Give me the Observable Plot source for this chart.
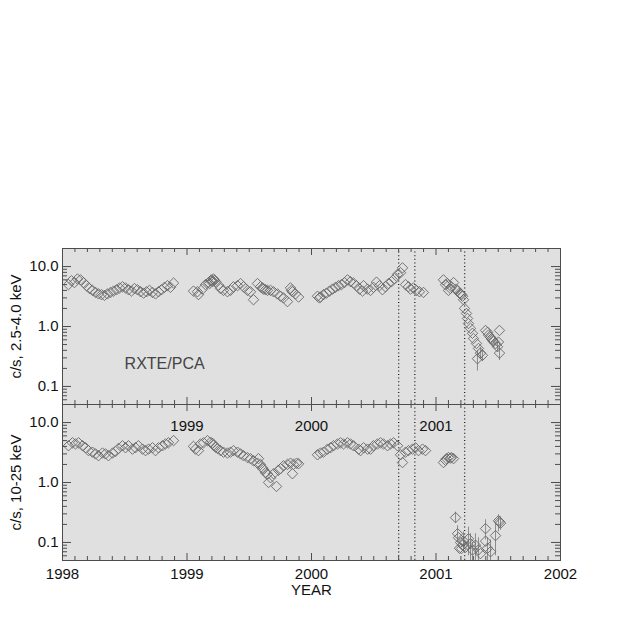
<!DOCTYPE html>
<html><head><meta charset="utf-8">
<script src="https://cdn.jsdelivr.net/npm/d3@7"></script>
<script src="https://cdn.jsdelivr.net/npm/@observablehq/plot@0.6"></script>
<style>
body{margin:0;background:#fff;font-family:"Liberation Sans",Arial,sans-serif;}
#chart{position:relative;width:623px;height:623px;}
#chart svg{display:block;}
</style></head><body><div id="chart"></div>
<script>
// ---- data: RXTE/PCA count rates ----
const softYear = [1998.048,1998.072,1998.096,1998.120,1998.145,1998.169,1998.193,1998.217,1998.241,1998.265,1998.289,1998.313,1998.337,1998.361,1998.386,1998.410,1998.434,1998.458,1998.482,1998.506,1998.530,1998.554,1998.578,1998.602,1998.627,1998.651,1998.675,1998.699,1998.723,1998.747,1998.771,1998.795,1998.819,1998.843,1998.867,1998.892,
1999.052,1999.084,1999.092,1999.124,1999.149,1999.173,1999.181,1999.189,1999.197,1999.205,1999.213,1999.221,1999.229,1999.253,1999.269,1999.293,1999.325,1999.349,1999.373,1999.406,1999.430,1999.454,1999.486,1999.510,1999.534,1999.566,1999.590,1999.606,1999.614,1999.631,1999.647,1999.671,1999.695,1999.727,1999.751,1999.775,1999.807,1999.831,1999.839,1999.847,1999.871,1999.896,
2000.048,2000.064,2000.072,2000.096,2000.120,2000.145,2000.169,2000.193,2000.217,2000.241,2000.265,2000.289,2000.313,2000.337,2000.361,2000.386,2000.410,2000.418,2000.450,2000.474,2000.498,2000.522,2000.546,2000.570,2000.594,2000.618,2000.643,2000.667,2000.691,2000.715,2000.731,2000.755,2000.779,2000.795,2000.819,2000.843,2000.867,2000.899,
2001.060,2001.076,2001.092,2001.100,2001.116,2001.124,2001.141,2001.157,2001.173,2001.189,2001.197,2001.205,2001.213,2001.221,2001.229,2001.245,2001.253,2001.261,2001.277,2001.293,2001.301,2001.325,2001.333,2001.341,2001.357,2001.373,2001.398,2001.414,2001.422,2001.438,2001.446,2001.454,2001.462,2001.478,2001.494,2001.502,2001.510,2001.510];
const softRate = [5.0,5.8,5.4,6.2,6.0,5.4,4.8,4.3,4.0,3.7,3.5,3.4,3.3,3.5,3.7,3.9,4.1,4.4,4.6,4.4,4.1,3.9,4.3,4.1,3.8,3.6,3.8,4.0,3.7,3.5,3.8,4.1,4.5,4.8,4.5,5.3,
3.9,3.8,3.4,4.2,5.0,5.4,5.2,5.8,6.0,5.6,6.2,5.9,5.6,4.9,4.3,4.0,3.8,4.0,4.6,4.8,5.2,4.6,4.0,3.8,2.8,5.2,4.6,4.4,4.2,4.1,4.0,4.0,3.8,3.5,3.2,3.0,2.6,4.4,4.0,3.8,3.5,3.1,
3.2,3.0,3.1,3.4,3.6,3.9,4.2,4.5,4.8,5.0,5.4,6.0,5.6,5.3,4.8,4.2,3.9,4.8,4.2,4.0,4.5,5.5,4.8,4.1,4.6,5.2,5.6,6.3,7.4,7.9,9.5,5.0,4.6,4.2,4.4,4.0,3.8,3.7,
6.0,5.0,5.2,4.0,4.3,4.6,5.4,4.2,4.0,3.6,3.5,3.4,3.2,2.8,2.0,1.65,1.36,1.12,0.93,0.77,0.63,0.52,0.29,0.43,0.36,0.33,0.86,0.80,0.72,0.66,0.62,0.60,0.56,0.52,0.46,0.55,0.86,0.36];
const softErrYear = [2001.333,2001.357,2001.373,2001.494,2001.510];
const softErrLo   = [0.18,0.28,0.26,0.38,0.27];
const softErrHi   = [0.40,0.45,0.41,0.55,0.47];

const hardYear = [1998.048,1998.080,1998.104,1998.129,1998.161,1998.185,1998.209,1998.241,1998.265,1998.289,1998.321,1998.345,1998.369,1998.402,1998.426,1998.450,1998.482,1998.506,1998.530,1998.562,1998.586,1998.610,1998.643,1998.667,1998.691,1998.723,1998.747,1998.771,1998.803,1998.827,1998.851,1998.892,
1999.052,1999.068,1999.092,1999.108,1999.133,1999.165,1999.189,1999.205,1999.213,1999.229,1999.245,1999.269,1999.293,1999.325,1999.349,1999.373,1999.406,1999.430,1999.454,1999.486,1999.510,1999.534,1999.566,1999.574,1999.590,1999.606,1999.614,1999.631,1999.647,1999.655,1999.671,1999.695,1999.719,1999.735,1999.751,1999.775,1999.807,1999.831,1999.847,1999.855,1999.880,1999.896,
2000.048,2000.072,2000.096,2000.129,2000.153,2000.177,2000.209,2000.233,2000.257,2000.289,2000.313,2000.337,2000.378,2000.394,2000.418,2000.450,2000.474,2000.498,2000.530,2000.554,2000.578,2000.610,2000.635,2000.659,2000.691,2000.715,2000.731,2000.755,2000.779,2000.811,2000.835,2000.859,2000.892,2000.916,
2001.060,2001.076,2001.084,2001.100,2001.116,2001.124,2001.141,2001.157,2001.173,2001.181,2001.189,2001.197,2001.205,2001.213,2001.221,2001.237,2001.261,2001.277,2001.293,2001.317,2001.341,2001.357,2001.398,2001.398,2001.414,2001.438,2001.478,2001.502,2001.510,2001.518];
const hardRate = [4.1,4.6,4.4,4.6,4.1,3.8,3.4,3.2,3.0,2.8,3.1,3.0,2.8,3.1,3.3,3.7,4.1,3.8,4.1,3.6,3.8,4.1,3.6,3.4,3.6,3.8,3.4,3.8,4.1,4.4,4.6,5.0,
4.0,3.6,3.4,4.4,4.6,5.0,4.7,4.5,4.2,3.9,3.7,3.4,3.2,3.1,3.2,3.4,3.2,3.0,2.8,2.6,2.5,2.3,2.1,2.5,2.0,1.75,1.65,1.45,1.38,1.0,1.2,1.4,0.86,1.6,1.7,1.9,2.0,2.1,1.4,2.0,2.1,2.05,
2.9,3.1,3.2,3.6,3.8,4.1,4.4,4.6,4.4,4.6,4.4,4.1,3.6,3.4,3.8,3.6,3.6,4.1,4.4,4.6,4.4,4.1,4.4,4.6,4.1,2.9,2.15,3.2,3.4,3.6,3.8,3.4,3.6,3.4,
2.15,2.35,2.5,2.6,2.55,2.6,2.5,0.26,0.14,0.12,0.08,0.10,0.079,0.09,0.105,0.083,0.115,0.095,0.075,0.09,0.075,0.065,0.17,0.105,0.08,0.07,0.13,0.23,0.22,0.21];
const hardErrYear = [2001.157,2001.173,2001.221,2001.261,2001.277,2001.293,2001.317,2001.341,2001.398,2001.414,2001.438,2001.478,2001.502,2001.518];
const hardErrLo   = [0.21,0.10,0.07,0.06,0.05,0.05,0.05,0.05,0.11,0.05,0.05,0.06,0.15,0.16];
const hardErrHi   = [0.32,0.19,0.15,0.18,0.14,0.10,0.14,0.12,0.24,0.12,0.11,0.20,0.29,0.27];

const eventYears = [2000.70, 2000.83, 2001.23];
const yearTicks = [1998, 1999, 2000, 2001, 2002];
const innerYearLabels = [1999, 2000, 2001];
const yTickLabels = [0.1, 1, 10];
const softLabel = "c/s, 2.5-4.0 keV";
const hardLabel = "c/s, 10-25 keV";
const instrument = ["RXTE/PCA"];
const instrumentPos = {year: 1998.82, rate: 0.24};

// ---- layout ----
const W = 623, ML = 62, MR = 63, PH = 156;
const FW = W - ML - MR;
const xDomain = [1998, 2002];
const yDomain = [0.05, 20];
const minorX = d3.range(1998.1, 2002, 0.1).filter(v => Math.abs(v - Math.round(v)) > 0.01);
const minorY = [0.05,0.06,0.07,0.08,0.09,0.2,0.3,0.4,0.5,0.6,0.7,0.8,0.9,2,3,4,5,6,7,8,9,20];
const FONT = "'Liberation Sans', Arial, Helvetica, sans-serif";
const frameColor = "#4d4d4d";

function zip(xs, ys) { return xs.map((x, i) => ({x, y: ys[i]})); }
function zipErr(xs, lo, hi) { return xs.map((x, i) => ({x, lo: lo[i], hi: hi[i]})); }

function panel({pts, errs, label, isBottom}) {
  const marks = [
    Plot.frame({fill: "#e0e0e0", stroke: null}),
    Plot.ruleX(eventYears, {x: d => d, stroke: "#222", strokeWidth: 1.3, strokeDasharray: "1,2.6"}),
    Plot.ruleX(errs, {x: "x", y1: "lo", y2: "hi", stroke: "#8c8c8c", strokeWidth: 1, clip: true}),
    Plot.dot(pts, {x: "x", y: "y", symbol: "diamond2", r: 4.7, fill: "none", stroke: "#676767", strokeWidth: 0.9, clip: true}),
    // inward ticks: left / right
    Plot.tickY(yTickLabels, {y: d => d, insetRight: FW - 9, stroke: frameColor}),
    Plot.tickY(minorY, {y: d => d, insetRight: FW - 5, stroke: frameColor}),
    Plot.tickY(yTickLabels, {y: d => d, insetLeft: FW - 9, stroke: frameColor}),
    Plot.tickY(minorY, {y: d => d, insetLeft: FW - 5, stroke: frameColor}),
    // inward ticks: top / bottom
    Plot.tickX(yearTicks, {x: d => d, insetBottom: PH - 7, stroke: frameColor}),
    Plot.tickX(minorX, {x: d => d, insetBottom: PH - 4, stroke: frameColor}),
    Plot.tickX(yearTicks, {x: d => d, insetTop: PH - 7, stroke: frameColor}),
    Plot.tickX(minorX, {x: d => d, insetTop: PH - 4, stroke: frameColor}),
    Plot.frame({stroke: frameColor, strokeWidth: 1}),
    Plot.axisY(yTickLabels, {anchor: "left", tickSize: 0, tickPadding: 4, tickFormat: d => d.toFixed(1), fontSize: 15, label: null}),
    Plot.text([label], {text: d => d, frameAnchor: "left", textAnchor: "middle", lineAnchor: "middle", dx: -46, rotate: -90, fontSize: 15, fill: "#111"})
  ];
  if (isBottom) {
    marks.push(
      Plot.text(innerYearLabels, {x: d => d, text: d => String(d), frameAnchor: "top", dy: 16, fontSize: 15, fill: "#111"}),
      Plot.axisX(yearTicks, {anchor: "bottom", tickSize: 0, tickPadding: 8, tickFormat: d => String(d), fontSize: 15, label: null}),
      Plot.text(["YEAR"], {text: d => d, frameAnchor: "bottom", textAnchor: "middle", dy: 34, fontSize: 15, fill: "#111"})
    );
  } else {
    marks.push(
      Plot.text(instrument, {x: () => instrumentPos.year, y: () => instrumentPos.rate, text: d => d, fontSize: 16, fill: "#444"})
    );
  }
  return Plot.plot({
    width: W,
    height: isBottom ? PH + 63 : 248 + PH,
    marginLeft: ML, marginRight: MR,
    marginTop: isBottom ? 0 : 248,
    marginBottom: isBottom ? 63 : 0,
    x: {domain: xDomain, axis: null},
    y: {type: "log", domain: yDomain, axis: null},
    style: {fontFamily: FONT, fontSize: "15px", background: "transparent", overflow: "visible", color: "#111"},
    marks
  });
}

const chart = document.getElementById("chart");
chart.append(panel({pts: zip(softYear, softRate), errs: zipErr(softErrYear, softErrLo, softErrHi), label: softLabel, isBottom: false}));
chart.append(panel({pts: zip(hardYear, hardRate), errs: zipErr(hardErrYear, hardErrLo, hardErrHi), label: hardLabel, isBottom: true}));
</script></body></html>
